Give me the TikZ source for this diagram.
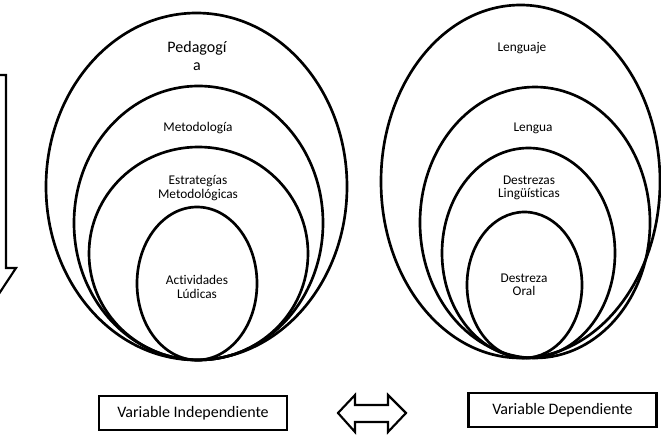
\documentclass[tikz,border=0pt]{standalone}
\usepackage{fontspec}
\setmainfont{Carlito}[Ligatures=NoCommon]
\usepackage{tikz}
\usetikzlibrary{arrows.meta}

\begin{document}
\begin{tikzpicture}[
    % one unit = one pixel of the layout, y pointing down
    x=0.75pt, y=-0.75pt,
    ring/.style   = {line width=2pt},
    lab/.style    = {draw=none, align=center, inner sep=0pt, font=\fontsize{10}{10}\selectfont},
    biglab/.style = {lab, font=\fontsize{12}{13.5}\selectfont},
    varbox/.style = {draw, line width=1.6pt, minimum width=141pt, minimum height=26pt,
                     inner sep=2pt, font=\fontsize{12}{14}\selectfont},
    bigarrow/.style = {line width=1.6pt, line join=miter}
  ]
  \clip (0,0) rectangle (661,445);

  % ===== Left arrow (cut by the border) =====
  \draw[bigarrow] (-40,75) -- (6,75) -- (6,268) -- (16,268) -- (-17,318)
                  -- (-50,268) -- (-40,268) -- cycle;

  % ===== Left: nested ellipses =====
  \foreach \cx/\cy/\rx/\ry in {196.5/186.5/150.5/173.5, 198.5/223/124.5/137,
                               198.5/253.5/109.5/106.5, 197/283.5/60/76.5}{
    \draw[ring] (\cx,\cy) ellipse [x radius=\rx, y radius=\ry];
  }
  \node[biglab] (ped) at (197,56)   {Pedagogí\\a};
  \node[lab]    (met) at (198,128)  {Metodología};
  \node[lab]    (est) at (198,188)  {Estrategías\\Metodológicas};
  \node[lab]    (act) at (197,287)  {Actividades\\Lúdicas};

  % ===== Right: nested ellipses =====
  \foreach \cx/\cy/\rx/\ry in {520.5/181.5/139.5/176.5, 535/222.5/115/135.5,
                               528.5/253/86.5/105, 524.5/285/57.5/73}{
    \draw[ring] (\cx,\cy) ellipse [x radius=\rx, y radius=\ry];
  }
  \node[lab] (lje) at (522,48)  {Lenguaje};
  \node[lab] (lng) at (533,128) {Lengua};
  \node[lab] (dlg) at (529,188) {Destrezas\\Lingüísticas};
  \node[lab] (dor) at (524,285) {Destreza\\Oral};

  % ===== Bottom: variables =====
  \node[varbox] (vind) at (193,413)   {Variable Independiente};
  \node[varbox] (vdep) at (562.5,410) {Variable Dependiente};

  % double arrow between them
  \draw[bigarrow] (338,413) -- (355,395) -- (355,405) -- (388,405) -- (388,395)
                  -- (406,413) -- (388,432) -- (388,422) -- (355,422) -- (355,432) -- cycle;

\end{tikzpicture}
\end{document}
